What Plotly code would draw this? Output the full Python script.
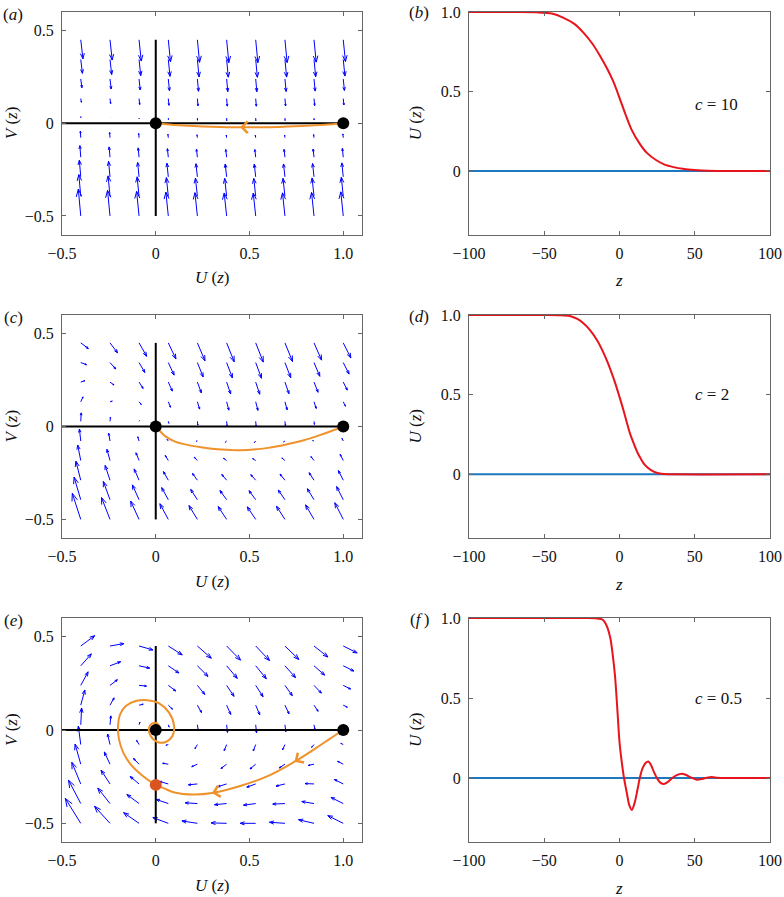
import numpy as np
import plotly.graph_objects as go
import plotly.figure_factory as ff

# wave speeds, one per row
SPEEDS = [10, 2, 0.5]
SPEED_LABELS = ["<i>c</i> = 10", "<i>c</i> = 2", "<i>c</i> = 0.5"]

# quiver grid in the (U, V) phase plane
GRID_U = [-0.4, -0.244, -0.089, 0.067, 0.222, 0.378, 0.533, 0.689, 0.844, 1.0]
GRID_V = [-0.5, -0.394, -0.289, -0.183, -0.078, 0.028, 0.133, 0.239, 0.344, 0.45]
QUIVER_SCALE = [0.026, 0.09, 0.165]

# black reference axes drawn inside the phase plane
AXIS_U_SPAN = [-0.5, 1.0]
AXIS_V_SPAN = [-0.5, 0.45]

# equilibria (0,0) and (1,0)
EQ_U = [0.0, 1.0]
EQ_V = [0.0, 0.0]

# heteroclinic orbits (in direction of travel)
TRAJ_A_U = [1.0, 0.9, 0.8, 0.7, 0.6, 0.45, 0.3, 0.2, 0.1, 0.04, 0.0]
TRAJ_A_V = [0.0, -0.008, -0.014, -0.018, -0.021, -0.022, -0.019, -0.015, -0.009, -0.004, 0.0]
TRAJ_A_ARROWS = [5]

TRAJ_C_U = [1.0, 0.93, 0.86, 0.79, 0.7, 0.6, 0.45, 0.35, 0.25, 0.15, 0.1, 0.05, 0.02, 0.0]
TRAJ_C_V = [0.0, -0.027, -0.052, -0.074, -0.096, -0.115, -0.128, -0.124, -0.113, -0.095, -0.08,
            -0.052, -0.022, 0.0]
TRAJ_C_ARROWS = [4, 8]

TRAJ_E_U = [1.0, 0.93, 0.85, 0.74, 0.6, 0.45, 0.3, 0.2, 0.1, 0.045, 0.0, -0.08, -0.134, -0.173,
            -0.196, -0.201, -0.19, -0.16, -0.107, -0.045, 0.018, 0.071, 0.098, 0.089, 0.053,
            0.009, -0.027, -0.036, -0.018, 0.009, 0.018, 0.0]
TRAJ_E_V = [0.0, -0.046, -0.1, -0.17, -0.246, -0.3, -0.338, -0.346, -0.335, -0.313, -0.294,
            -0.237, -0.184, -0.121, -0.05, 0.021, 0.084, 0.128, 0.155, 0.16, 0.143, 0.093,
            0.021, -0.032, -0.064, -0.064, -0.032, 0.012, 0.035, 0.035, 0.012, 0.0]
TRAJ_E_ARROWS = [3, 6, 13]
CROSS_E_U = [0.0]
CROSS_E_V = [-0.294]

# travelling-wave profiles U(z)
PROF_B_Z = [-100, -70, -55, -45, -37.5, -30, -24, -18, -13, -8, -4, 0, 4, 8, 13.5, 18, 24.5,
            30, 36, 42, 48, 55, 65, 100]
PROF_B_U = [1.0, 1.0, 0.998, 0.99, 0.965, 0.925, 0.87, 0.8, 0.725, 0.64, 0.56, 0.46, 0.355,
            0.26, 0.17, 0.115, 0.067, 0.04, 0.024, 0.013, 0.007, 0.002, 0.0, 0.0]

PROF_D_Z = [-100, -50, -40, -33, -28, -24, -20, -15, -11, -8, -5, -2.8, 0.6, 3, 5, 7, 9.4, 12,
            14, 16, 19, 22.7, 26, 30, 35, 100]
PROF_D_U = [1.0, 1.0, 0.999, 0.994, 0.975, 0.948, 0.91, 0.843, 0.77, 0.705, 0.63, 0.571, 0.467,
            0.39, 0.32, 0.255, 0.195, 0.135, 0.1, 0.069, 0.04, 0.017, 0.007, 0.002, 0.0, 0.0]

PROF_F_Z = [-100, -25, -16, -12, -10, -8, -6, -4.5, -3, -1.5, 0, 1.5, 3.0, 5, 6.5, 8.2, 10.2,
            12, 13.7, 15.5, 17.5, 19.2, 21, 23, 25.5, 27.5, 29.5, 32, 35, 38, 41.3, 44, 47.5,
            51.3, 55, 58, 61.3, 65, 70, 100]
PROF_F_U = [1.0, 1.0, 0.999, 0.993, 0.978, 0.94, 0.87, 0.77, 0.64, 0.44, 0.225, 0.1, 0.0,
            -0.1, -0.17, -0.2, -0.15, -0.07, 0.01, 0.065, 0.095, 0.103, 0.08, 0.035, -0.01,
            -0.032, -0.038, -0.025, 0.0, 0.018, 0.027, 0.02, 0.003, -0.011, -0.006, 0.002,
            0.006, 0.002, 0.0, 0.0]

PANEL_LABELS = ["(<i>a</i>)", "(<i>b</i>)", "(<i>c</i>)", "(<i>d</i>)", "(<i>e</i>)",
                "(<i>f</i>\u2009)"]

W, H = 784, 897
FONT = "Liberation Serif"
ORANGE = "#f0922b"
QUIVER_BLUE = "#0000ff"
RED = "#e8141c"
ZERO_BLUE = "#1f78bd"


def px_x(p):
    return p / W


def px_y(p):
    return 1 - p / H


# panel boxes in pixels (left, right, top, bottom)
LEFT_COL = (62, 362)
RIGHT_COL = (469, 770)
ROWS = [(12, 234.5), (315, 538), (618, 842)]


def fisher_field(c):
    """U' = V, V' = -cV - U(1-U) on the grid."""
    gu, gv = np.meshgrid(GRID_U, GRID_V)
    du = gv
    dv = -c * gv - gu * (1 - gu)
    return gu.ravel(), gv.ravel(), du.ravel(), dv.ravel()


fig = go.Figure()
annotations = []

axis_common = dict(
    showgrid=False, zeroline=False, showline=True, mirror="ticks", automargin=False,
    linecolor="#666", linewidth=1, ticks="inside", ticklen=4, tickcolor="#666",
    tickfont=dict(family=FONT, size=16, color="#111"), ticklabelstandoff=4,
)
title_font = dict(family=FONT, size=17, color="#111")


def paper_text(x, y, text, angle=0):
    return dict(x=px_x(x), y=px_y(y), xref="paper", yref="paper", text=text,
                showarrow=False, xanchor="center", yanchor="middle", textangle=angle,
                font=title_font)


phase_sets = [
    (TRAJ_A_U, TRAJ_A_V, TRAJ_A_ARROWS),
    (TRAJ_C_U, TRAJ_C_V, TRAJ_C_ARROWS),
    (TRAJ_E_U, TRAJ_E_V, TRAJ_E_ARROWS),
]
profile_sets = [(PROF_B_Z, PROF_B_U), (PROF_D_Z, PROF_D_U), (PROF_F_Z, PROF_F_U)]

layout_axes = {}
for r in range(3):
    top, bot = ROWS[r]
    ydom = [px_y(bot), px_y(top)]
    # phase plane: axis pair n = 2r+1
    n = 2 * r + 1
    xref = "x" if n == 1 else f"x{n}"
    yref = "y" if n == 1 else f"y{n}"
    xkey = "xaxis" if n == 1 else f"xaxis{n}"
    ykey = "yaxis" if n == 1 else f"yaxis{n}"
    layout_axes[xkey] = dict(axis_common, domain=[px_x(LEFT_COL[0]), px_x(LEFT_COL[1])],
                             range=[-0.5, 1.1], anchor=yref,
                             tickvals=[-0.5, 0, 0.5, 1.0],
                             ticktext=["\u22120.5", "0", "0.5", "1.0"])
    layout_axes[ykey] = dict(axis_common, domain=ydom, range=[-0.6, 0.6], anchor=xref,
                             tickvals=[-0.5, 0, 0.5], ticktext=["\u22120.5", "0", "0.5"])

    qu, qv, qdu, qdv = fisher_field(SPEEDS[r])
    q = ff.create_quiver(qu, qv, qdu, qdv, scale=QUIVER_SCALE[r], arrow_scale=0.3,
                         angle=np.pi / 9, line=dict(color=QUIVER_BLUE, width=1))
    for t in q.data:
        t.update(xaxis=xref, yaxis=yref, showlegend=False, hoverinfo="skip")
        fig.add_trace(t)

    fig.add_trace(go.Scatter(x=AXIS_U_SPAN, y=[0, 0], mode="lines", xaxis=xref, yaxis=yref,
                             line=dict(color="black", width=2), showlegend=False))
    fig.add_trace(go.Scatter(x=[0, 0], y=AXIS_V_SPAN, mode="lines", xaxis=xref, yaxis=yref,
                             line=dict(color="black", width=2), showlegend=False))

    tu, tv, arrows = phase_sets[r]
    fig.add_trace(go.Scatter(x=tu, y=tv, mode="lines", xaxis=xref, yaxis=yref,
                             line=dict(color=ORANGE, width=2, shape="spline", smoothing=1.0),
                             showlegend=False))
    for i in arrows:
        hx, hy = tu[i], tv[i]
        tx = hx - 0.25 * (tu[i] - tu[i - 1])
        ty = hy - 0.25 * (tv[i] - tv[i - 1])
        annotations.append(dict(x=hx, y=hy, ax=tx, ay=ty, xref=xref, yref=yref,
                                axref=xref, ayref=yref, text="", showarrow=True,
                                arrowhead=4, arrowsize=1.4, arrowwidth=1.6,
                                arrowcolor=ORANGE))
    if r == 2:
        fig.add_trace(go.Scatter(x=CROSS_E_U, y=CROSS_E_V, mode="markers", xaxis=xref,
                                 yaxis=yref, marker=dict(color="#d9541e", size=12),
                                 showlegend=False))
    fig.add_trace(go.Scatter(x=EQ_U, y=EQ_V, mode="markers", xaxis=xref, yaxis=yref,
                             marker=dict(color="black", size=12), showlegend=False))

    # profile: axis pair m = 2r+2
    m = 2 * r + 2
    xa2, ya2 = f"x{m}", f"y{m}"
    layout_axes[f"xaxis{m}"] = dict(axis_common, domain=[px_x(RIGHT_COL[0]), px_x(RIGHT_COL[1])],
                                    range=[-100, 100], anchor=ya2,
                                    tickvals=[-100, -50, 0, 50, 100],
                                    ticktext=["\u2212100", "\u221250", "0", "50", "100"])
    layout_axes[f"yaxis{m}"] = dict(axis_common, domain=ydom, range=[-0.4, 1.0], anchor=xa2,
                                    tickvals=[0, 0.5, 1.0], ticktext=["0", "0.5", "1.0"])
    pz, pu = profile_sets[r]
    fig.add_trace(go.Scatter(x=[-100, 100], y=[0, 0], mode="lines", xaxis=xa2, yaxis=ya2,
                             line=dict(color=ZERO_BLUE, width=2), showlegend=False))
    fig.add_trace(go.Scatter(x=pz, y=pu, mode="lines", xaxis=xa2, yaxis=ya2,
                             line=dict(color=RED, width=2, shape="spline", smoothing=0.8),
                             showlegend=False))
    annotations.append(dict(x=49, y=0.5 if r else 0.42, xref=xa2, yref=ya2,
                            text=SPEED_LABELS[r], showarrow=False, xanchor="left",
                            yanchor="middle", font=title_font))

    # axis titles
    annotations.append(paper_text(212, bot + 43, "<i>U</i> (<i>z</i>)"))
    annotations.append(paper_text(619, bot + 46, "<i>z</i>"))
    annotations.append(paper_text(11, (top + bot) / 2, "<i>V</i> (<i>z</i>)", -90))
    annotations.append(paper_text(415, (top + bot) / 2, "<i>U</i> (<i>z</i>)", -90))
    # panel letters
    annotations.append(paper_text(13, top + 2, PANEL_LABELS[2 * r]))
    annotations.append(paper_text(419, top + 1, PANEL_LABELS[2 * r + 1]))

fig.update_layout(
    width=W, height=H, margin=dict(l=0, r=0, t=0, b=0),
    paper_bgcolor="white", plot_bgcolor="white",
    showlegend=False, annotations=annotations, **layout_axes,
)

fig.write_html("out.html", post_script="document.body.style.margin = '0px';",
               config={"displayModeBar": False})
